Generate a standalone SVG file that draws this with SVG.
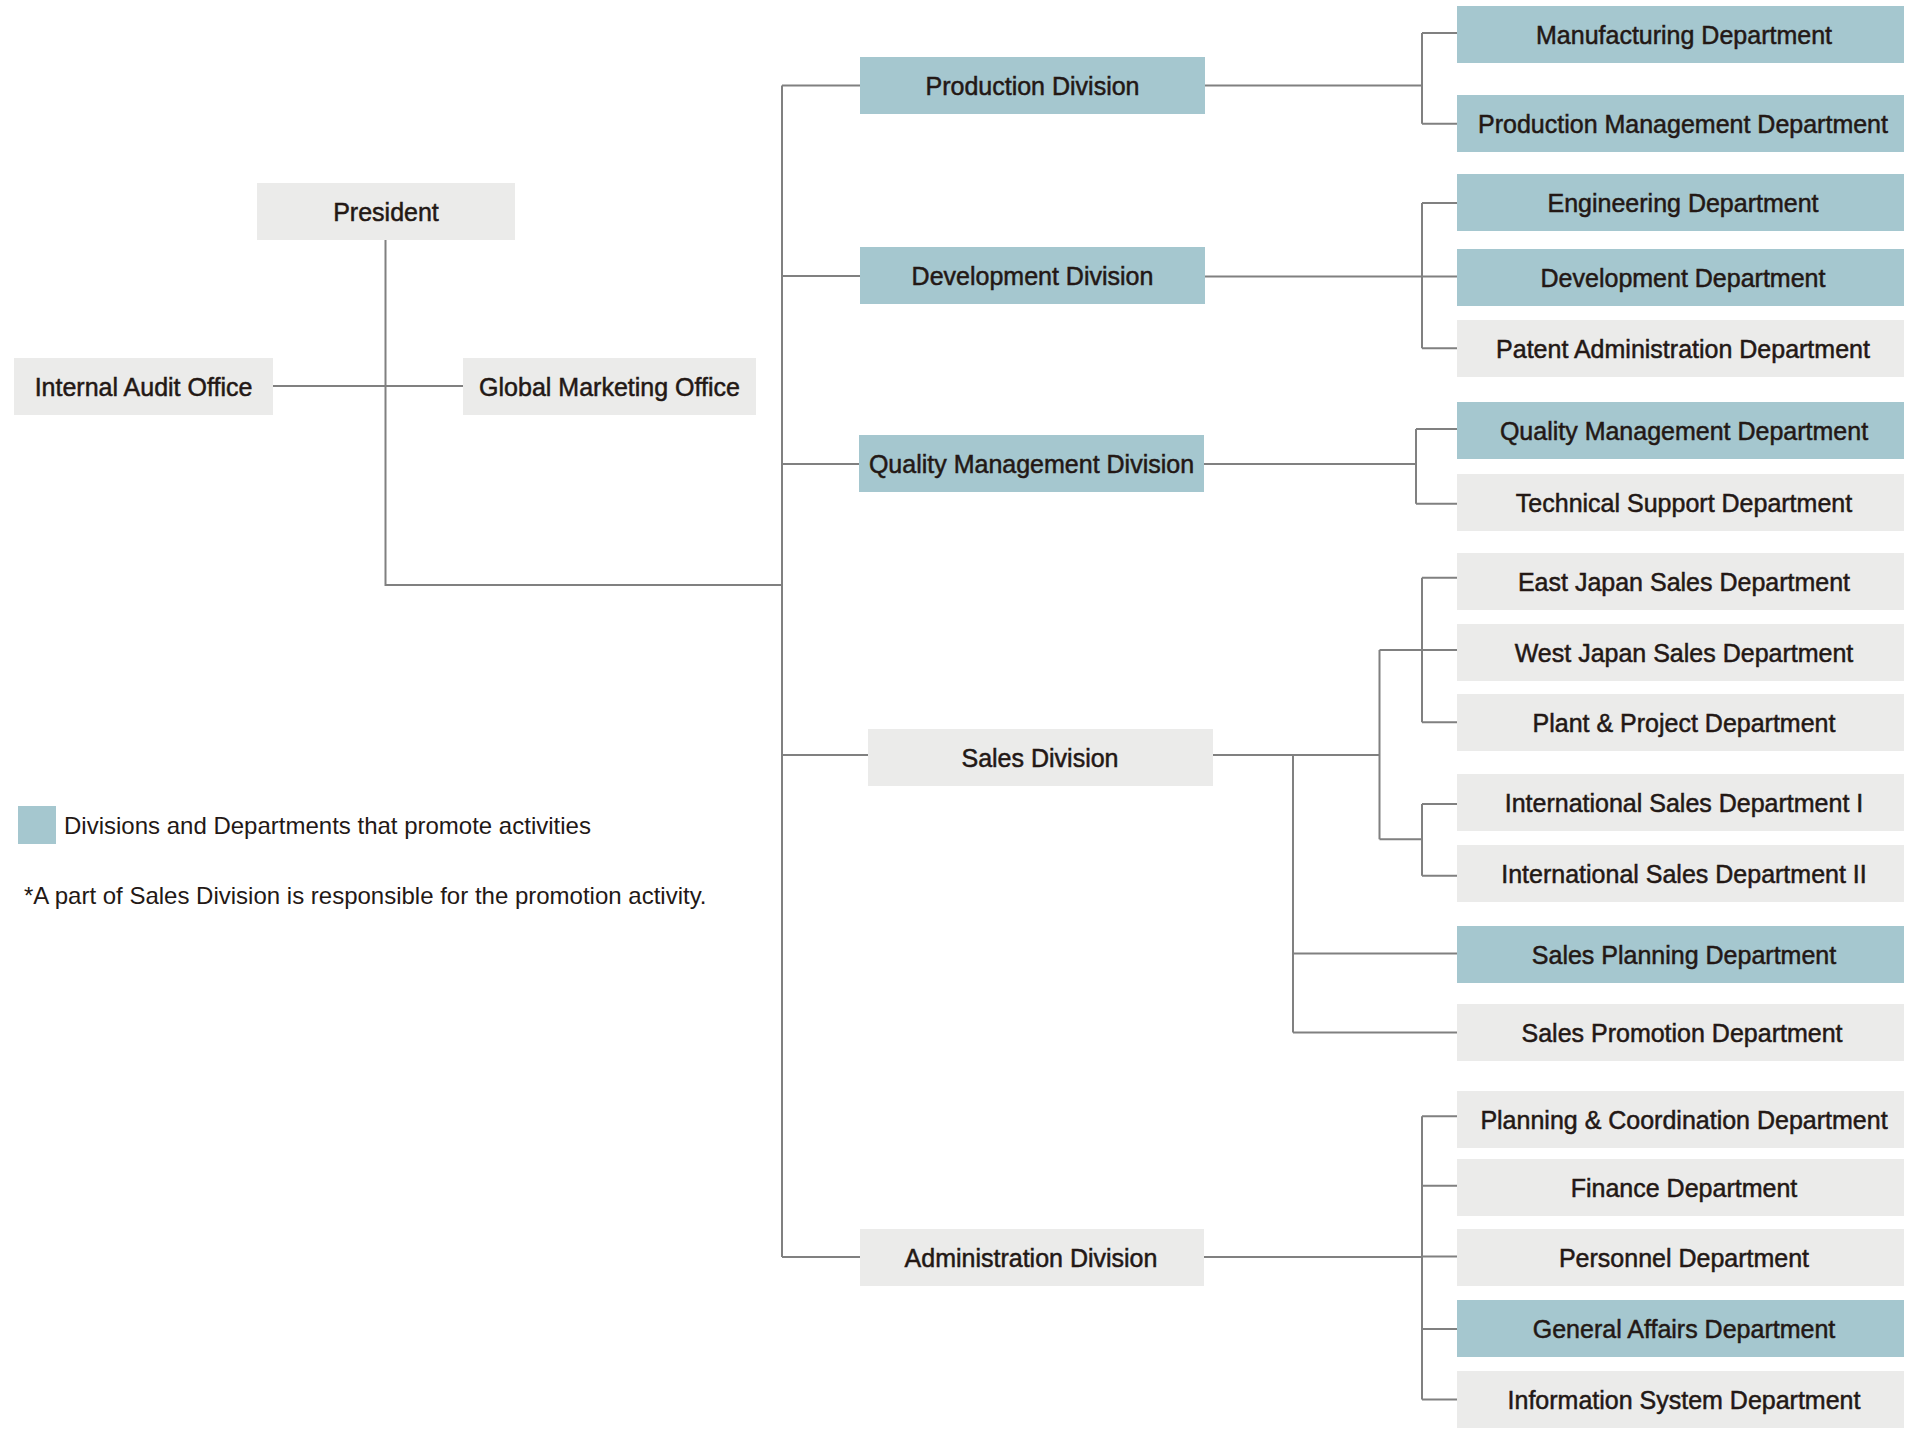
<svg xmlns="http://www.w3.org/2000/svg" width="1920" height="1438" viewBox="0 0 1920 1438">
<style>
  .teal { fill: #A5C7CF; }
  .gray { fill: #EBEBEA; }
  .lbl { font-family: "Liberation Sans", Arial, Helvetica, sans-serif; font-size: 25px; fill: #231815; stroke: #231815; stroke-width: 0.5px; text-anchor: middle; }
  .note { font-family: "Liberation Sans", Arial, Helvetica, sans-serif; font-size: 24px; fill: #231815; }
  .ln { fill: none; stroke: #808080; stroke-width: 2; }
</style>
<rect width="1920" height="1438" fill="#FFFFFF"/>

<g id="connectors" class="ln">
  <path d="M385.5 240 V585 H782"/>
  <path d="M273 386 H463"/>
  <path d="M782 85.5 V1257"/>
  <path d="M782 85.5 H860 M782 276 H860 M782 464 H860 M782 755 H868 M782 1257 H860"/>
  <!-- Production -->
  <path d="M1205 85.5 H1422 M1422 33 V123.7 M1422 33 H1457 M1422 123.7 H1457"/>
  <!-- Development -->
  <path d="M1205 276.5 H1457 M1422 203 V348.3 M1422 203 H1457 M1422 348.3 H1457"/>
  <!-- Quality -->
  <path d="M1204 464 H1416 M1416 429 V503.7 M1416 429 H1457 M1416 503.7 H1457"/>
  <!-- Sales -->
  <path d="M1213 755 H1379.5 M1379.5 650 V839.3 M1379.5 650 H1457 M1379.5 839.3 H1422"/>
  <path d="M1422 577.7 V722.3 M1422 577.7 H1457 M1422 722.3 H1457"/>
  <path d="M1422 804 V875.7 M1422 804 H1457 M1422 875.7 H1457"/>
  <path d="M1293 755 V1032.5 M1293 953.6 H1457 M1293 1032.5 H1457"/>
  <!-- Administration -->
  <path d="M1204 1257 H1422 M1422 1116.3 V1399.6 M1422 1116.3 H1457 M1422 1185.8 H1457 M1422 1256.5 H1457 M1422 1329 H1457 M1422 1399.6 H1457"/>
</g>

<g id="president"><rect class="gray" x="257" y="183" width="258" height="57"/><text class="lbl" x="386" y="221">President</text></g>
<g id="internal-audit"><rect class="gray" x="14" y="358" width="259" height="57"/><text class="lbl" x="143.5" y="396">Internal Audit Office</text></g>
<g id="global-marketing"><rect class="gray" x="463" y="358" width="293" height="57"/><text class="lbl" x="609.5" y="396">Global Marketing Office</text></g>

<g id="production-division"><rect class="teal" x="860" y="57" width="345" height="57"/><text class="lbl" x="1032.5" y="95">Production Division</text></g>
<g id="development-division"><rect class="teal" x="860" y="247" width="345" height="57"/><text class="lbl" x="1032.5" y="285">Development Division</text></g>
<g id="quality-division"><rect class="teal" x="859" y="435" width="345" height="57"/><text class="lbl" x="1031.5" y="473">Quality Management Division</text></g>
<g id="sales-division"><rect class="gray" x="868" y="729" width="345" height="57"/><text class="lbl" x="1040" y="767">Sales Division</text></g>
<g id="administration-division"><rect class="gray" x="860" y="1229" width="344" height="57"/><text class="lbl" x="1031" y="1267">Administration Division</text></g>

<g id="manufacturing"><rect class="teal" x="1457" y="6" width="447" height="57"/><text class="lbl" x="1684" y="44">Manufacturing Department</text></g>
<g id="production-management"><rect class="teal" x="1457" y="95" width="447" height="57"/><text class="lbl" x="1683" y="133">Production Management Department</text></g>
<g id="engineering"><rect class="teal" x="1457" y="174" width="447" height="57"/><text class="lbl" x="1683" y="212">Engineering Department</text></g>
<g id="development-dept"><rect class="teal" x="1457" y="249" width="447" height="57"/><text class="lbl" x="1683" y="287">Development Department</text></g>
<g id="patent"><rect class="gray" x="1457" y="320" width="447" height="57"/><text class="lbl" x="1683" y="358">Patent Administration Department</text></g>
<g id="quality-dept"><rect class="teal" x="1457" y="402" width="447" height="57"/><text class="lbl" x="1684" y="440">Quality Management Department</text></g>
<g id="technical-support"><rect class="gray" x="1457" y="474" width="447" height="57"/><text class="lbl" x="1684" y="512">Technical Support Department</text></g>
<g id="east-japan"><rect class="gray" x="1457" y="553" width="447" height="57"/><text class="lbl" x="1684" y="591">East Japan Sales Department</text></g>
<g id="west-japan"><rect class="gray" x="1457" y="624" width="447" height="57"/><text class="lbl" x="1684" y="662">West Japan Sales Department</text></g>
<g id="plant-project"><rect class="gray" x="1457" y="694" width="447" height="57"/><text class="lbl" x="1684" y="732">Plant &amp; Project Department</text></g>
<g id="intl-sales-1"><rect class="gray" x="1457" y="774" width="447" height="57"/><text class="lbl" x="1684" y="812">International Sales Department I</text></g>
<g id="intl-sales-2"><rect class="gray" x="1457" y="845" width="447" height="57"/><text class="lbl" x="1684" y="883">International Sales Department II</text></g>
<g id="sales-planning"><rect class="teal" x="1457" y="926" width="447" height="57"/><text class="lbl" x="1684" y="964">Sales Planning Department</text></g>
<g id="sales-promotion"><rect class="gray" x="1457" y="1004" width="447" height="57"/><text class="lbl" x="1682" y="1042">Sales Promotion Department</text></g>
<g id="planning-coordination"><rect class="gray" x="1457" y="1091" width="447" height="57"/><text class="lbl" x="1684" y="1129">Planning &amp; Coordination Department</text></g>
<g id="finance"><rect class="gray" x="1457" y="1159" width="447" height="57"/><text class="lbl" x="1684" y="1197">Finance Department</text></g>
<g id="personnel"><rect class="gray" x="1457" y="1229" width="447" height="57"/><text class="lbl" x="1684" y="1267">Personnel Department</text></g>
<g id="general-affairs"><rect class="teal" x="1457" y="1300" width="447" height="57"/><text class="lbl" x="1684" y="1338">General Affairs Department</text></g>
<g id="information-system"><rect class="gray" x="1457" y="1371" width="447" height="57"/><text class="lbl" x="1684" y="1409">Information System Department</text></g>

<g id="legend">
  <rect class="teal" x="18" y="806" width="38" height="38"/>
  <text class="note" x="64" y="834">Divisions and Departments that promote activities</text>
  <text class="note" x="24" y="904">*A part of Sales Division is responsible for the promotion activity.</text>
</g>
</svg>
